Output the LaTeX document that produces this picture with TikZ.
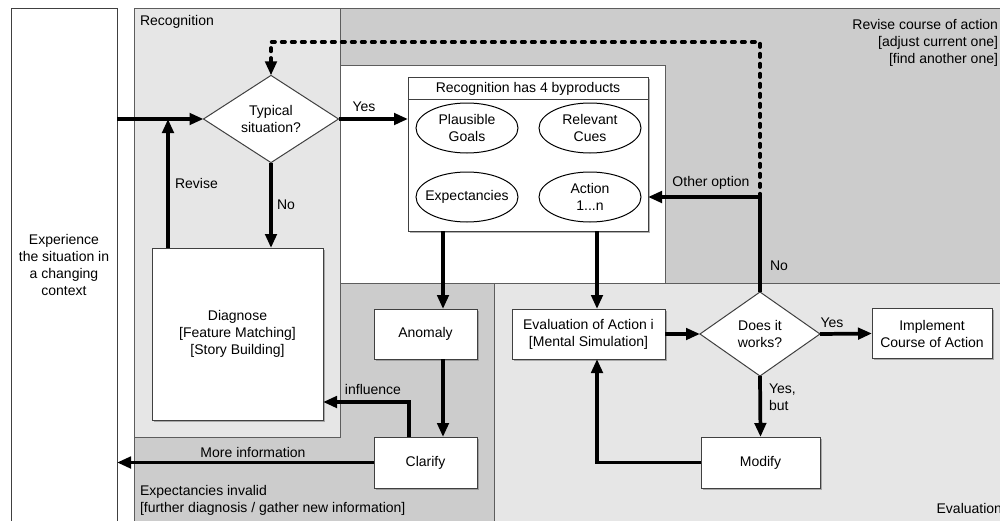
\documentclass[tikz,border=0pt]{standalone}
\usepackage{fontspec}
\setmainfont{Liberation Sans}
\usetikzlibrary{arrows.meta,shapes.geometric,shadows}
\definecolor{lgray}{HTML}{E6E6E6}
\definecolor{dgray}{HTML}{CCCCCC}
\definecolor{edge}{HTML}{404040}
\begin{document}
\begin{tikzpicture}[x=0.75pt,y=-0.75pt,
 every node/.style={font=\fontsize{10.5pt}{12.75pt}\selectfont, inner sep=0pt, outer sep=0pt},
 box/.style={draw=edge, line width=0.75pt, fill=white, rectangle, align=center,
   drop shadow={shadow xshift=1.2pt, shadow yshift=-1.2pt, opacity=0.6}},
 ell/.style={draw=black, line width=0.75pt, fill=white, ellipse, minimum width=76.5pt, minimum height=37.5pt},
 dia/.style={draw=edge, line width=0.75pt, fill=white, diamond, align=center},
 arr/.style={line width=2.8pt, -{Triangle[length=10.5pt,width=8.5pt]}},
 dsh/.style={line width=2.8pt, dash pattern=on 2.5pt off 5pt, line cap=round, -{Triangle[length=10.5pt,width=8.5pt]}},
 region/.style={draw=edge!85, line width=0.75pt}
]
\useasboundingbox (0,0) rectangle (1000,521);
\clip (0,0) rectangle (1000,521);
% regions
\draw[region, fill=dgray] (134,8) rectangle (1010,530);
\draw[region, fill=lgray] (134,8) rectangle (340,437);
\draw[region, fill=white] (340,65) rectangle (665,283);
\draw[region, fill=lgray] (494,283) rectangle (1010,530);
% region labels
\node[anchor=west] (recl) at (140,22) {Recognition};
\node[anchor=east, align=right] (revl) at (998,42.5) {Revise course of action\\{}[adjust current one]\\{}[find another one]};
\node[anchor=west, align=left] (expl) at (140,500) {Expectancies invalid\\{}[further diagnosis / gather new information]};
\node[anchor=east] (evall) at (1002,508) {Evaluation};
% experience box
\node[draw=edge, line width=0.75pt, fill=white, minimum width=79.5pt, minimum height=399pt] (exp) at (64,274) {};
\node[align=center] (expt) at (64,265) {Experience\\the situation in\\a changing\\context};
% nodes
\node[dia, minimum width=101.25pt, minimum height=63.75pt] (typ) at (271,119) {Typical\\situation?};
\node[box, minimum width=128.25pt, minimum height=129pt] (diag) at (237.5,334) {Diagnose\\{}[Feature Matching]\\{}[Story Building]};
\node[box, minimum width=180pt, minimum height=115.5pt] (bp) at (528,154) {};
\node (bpt) at (528,88.5) {Recognition has 4 byproducts};
\draw[edge, line width=0.75pt] (408,99) -- (648,99);
\node[ell, label={[align=center]center:{Plausible\\Goals}}] (pg) at (467,128) {};
\node[ell, label={[align=center]center:{Relevant\\Cues}}] (rc) at (590,128) {};
\node[ell, label={[align=center]center:{Expectancies}}] (ex) at (467,197) {};
\node[ell, label={[align=center]center:{Action\\1...n}}] (ac) at (590,197) {};
\node[dia, minimum width=90pt, minimum height=63pt] (dw) at (760,334) {Does it\\works?};
\node[box, minimum width=114.75pt, minimum height=37.5pt] (ev) at (588.5,334) {Evaluation of Action i\\{}[Mental Simulation]};
\node[box, minimum width=90pt, minimum height=37.5pt] (impl) at (932,333.5) {Implement\\Course of Action};
\node[box, minimum width=89.25pt, minimum height=38.25pt] (mod) at (760.5,462.5) {Modify};
\node[box, minimum width=77.25pt, minimum height=37.5pt] (an) at (425.5,334) {Anomaly};
\node[box, minimum width=77.25pt, minimum height=38.25pt] (cl) at (425.5,462.5) {Clarify};
% helper coordinates
\coordinate (c1) at (443,0);
\coordinate (c2) at (597,0);
\coordinate (c3) at (409,402);
\coordinate (rv) at (168,119);
\coordinate (tp) at (0,42);
% connectors
\draw[arr] (exp.east |- typ.west) -- (typ.west);
\draw[arr] (diag.north -| rv) -- (rv);
\draw[arr] (typ.south) -- (typ.south |- diag.north);
\draw[arr] (typ.east) -- (bp.west |- typ.east);
\draw[arr] (bp.south -| c1) -- (an.north -| c1);
\draw[arr] (an.south -| c1) -- (cl.north -| c1);
\draw[arr] (bp.south -| c2) -- (ev.north -| c2);
\draw[arr] (mod.west) -| (ev.south -| c2);
\draw[arr] (ev.east) -- (dw.west);
\draw[arr] (dw.east) -- (impl.west);
\draw[arr] (dw.south) -- (mod.north);
\draw[arr] (dw.north) |- (bp.east |- ac);
\draw[dsh] (dw.north |- ac) -- (dw.north |- tp) -| (typ.north);
\draw[arr] (cl.north -| c3) |- (diag.east |- c3);
\draw[arr] (cl.west) -- (cl.west -| exp.east);
% connector labels
\node (lyes1) at (364,107) {Yes};
\node[anchor=west] (lrev) at (175,183) {Revise};
\node[anchor=west] (lno1) at (277,205) {No};
\node (loth) at (711,183) {Other option};
\node (lno2) at (779,266) {No};
\node (lyes2) at (832,323) {Yes};
\node[anchor=west, align=left] (lyb) at (769,397.5) {Yes,\\but};
\node (linf) at (373,389) {influence};
\node (lmore) at (253,452) {More information};
\end{tikzpicture}
\end{document}
